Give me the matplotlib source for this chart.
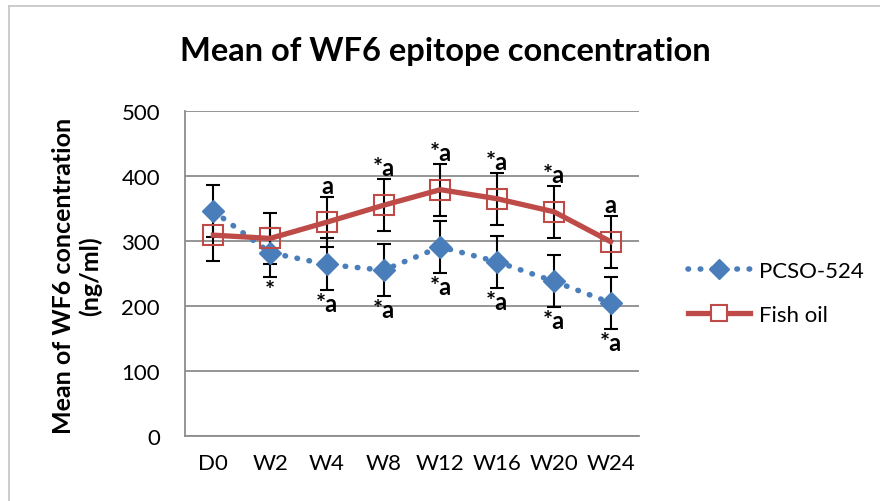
import numpy as np
import matplotlib.pyplot as plt
from matplotlib.lines import Line2D

# Data
weeks = ['D0', 'W2', 'W4', 'W8', 'W12', 'W16', 'W20', 'W24']
pcso = [346, 282, 264, 255, 291, 268, 238, 205]
pcso_err = [40, 38, 40, 40, 40, 40, 40, 40]
fish = [309, 304, 329, 355, 379, 365, 345, 299]
fish_err = [40, 39, 38, 40, 40, 40, 40, 40]
fish_marks = ['', '', 'a', '*a', '*a', '*a', '*a', 'a']
pcso_marks = ['', '*', '*a', '*a', '*a', '*a', '*a', '*a']


def main():
    plt.rcParams['font.family'] = ['Lato', 'DejaVu Sans']
    fig = plt.figure(figsize=(8.8, 5.02), dpi=100)
    W, H = 880, 502
    ax = fig.add_axes([185 / W, 1 - 437 / H, (639 - 185) / W, (437 - 112) / H])

    x = np.arange(len(weeks))
    blue = '#4a7ebb'
    red = '#be4b48'
    dots = (0, (0.1, 2.1))

    ax.errorbar(x, pcso, yerr=pcso_err, fmt='none', ecolor='black',
                elinewidth=1.5, capsize=5, capthick=1.5, zorder=2)
    ax.errorbar(x, fish, yerr=fish_err, fmt='none', ecolor='black',
                elinewidth=1.5, capsize=5, capthick=1.5, zorder=2)
    ax.plot(x, pcso, linestyle=dots, dash_capstyle='round',
            color=blue, linewidth=4, zorder=3)
    ax.plot(x, pcso, linestyle='none', marker='D', markersize=11,
            color=blue, zorder=4)
    ax.plot(x, fish, '-', color=red, linewidth=3.8, zorder=3)
    ax.plot(x, fish, linestyle='none', marker='s', markersize=14.5,
            markerfacecolor='none', markeredgecolor=red, markeredgewidth=1.5,
            zorder=4)

    for i in range(len(weeks)):
        if fish_marks[i]:
            ax.text(x[i], fish[i] + fish_err[i], fish_marks[i],
                    ha='center', va='bottom', fontsize=17, fontweight='bold')
        if pcso_marks[i]:
            ax.text(x[i], pcso[i] - pcso_err[i] - 3, pcso_marks[i],
                    ha='center', va='top', fontsize=17, fontweight='bold')

    ax.set_xlim(-0.5, 7.5)
    ax.set_ylim(0, 500)
    ax.set_yticks([0, 100, 200, 300, 400, 500])
    ax.set_xticks(x)
    ax.set_xticklabels(weeks)
    ax.tick_params(length=0, labelsize=16)
    ax.tick_params(axis='x', pad=12)
    ax.tick_params(axis='y', pad=18)
    ax.grid(axis='y', color='#8c8c8c', linewidth=1.3)
    ax.set_axisbelow(True)
    for s in ['top', 'right']:
        ax.spines[s].set_visible(False)
    for s in ['left', 'bottom']:
        ax.spines[s].set_color('#8c8c8c')
        ax.spines[s].set_linewidth(1.3)

    fig.text(445 / W, 1 - 52 / H, 'Mean of WF6 epitope concentration',
             ha='center', va='center', fontsize=23.5, fontweight='bold')
    fig.text(77 / W, 1 - 276 / H, 'Mean of WF6 concentration\n(ng/ml)',
             ha='center', va='center', rotation=90, fontsize=18,
             fontweight='bold', linespacing=1.15)

    handles = [
        Line2D([], [], linestyle=dots, dash_capstyle='round',
               color=blue, linewidth=4, marker='D', markersize=10),
        Line2D([], [], color=red, linewidth=3.8, marker='s', markersize=12,
               markerfacecolor='white', markeredgecolor=red,
               markeredgewidth=1.5),
    ]
    fig.legend(handles, ['PCSO-524', 'Fish oil'], loc='center left',
               bbox_to_anchor=(668 / W, 1 - 294 / H), frameon=False,
               fontsize=16, handlelength=2.8, labelspacing=1.1,
               handletextpad=0.4)

    # thin border round the chart area
    fig.add_artist(Line2D([9 / W, 1], [1 - 7 / H, 1 - 7 / H],
                          color='#c8c8c8', linewidth=1.3))
    fig.add_artist(Line2D([9 / W, 9 / W], [0, 1 - 7 / H],
                          color='#c8c8c8', linewidth=1.3))

    plt.savefig('out.png', dpi=100)


if __name__ == '__main__':
    main()
